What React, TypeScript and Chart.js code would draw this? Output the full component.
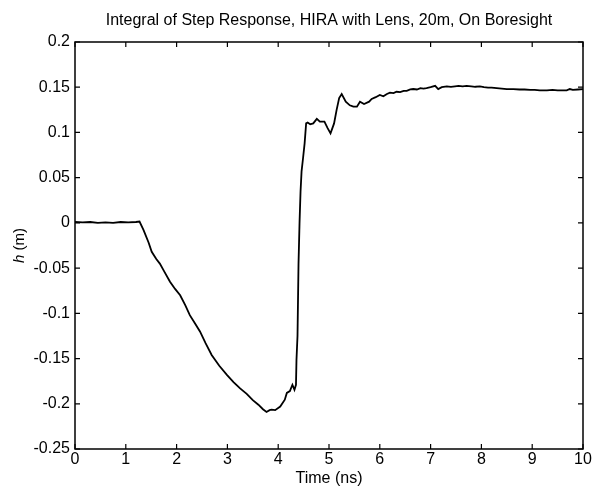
import React, { useEffect, useRef } from "react";
import { Chart, registerables } from "chart.js";

Chart.register(...registerables);

const chartTitle = "Integral of Step Response, HIRA with Lens, 20m, On Boresight";
const xTitle = "Time (ns)";

const timeNs = [
  0, 0.15, 0.3, 0.45, 0.6, 0.75, 0.9, 1.05, 1.2, 1.27,
  1.35, 1.45, 1.51, 1.6, 1.67, 1.75, 1.87, 1.97, 2.07, 2.17,
  2.26, 2.36, 2.46, 2.57, 2.69, 2.84, 2.99, 3.12, 3.25, 3.38,
  3.5, 3.61, 3.7, 3.77, 3.83, 3.87, 3.94, 4.04, 4.13, 4.17,
  4.23, 4.28, 4.32, 4.35, 4.36, 4.38, 4.4, 4.42, 4.44, 4.46,
  4.49, 4.52, 4.55, 4.58, 4.63, 4.69, 4.76, 4.82, 4.91, 4.97,
  5.03, 5.1, 5.15, 5.2, 5.25, 5.33, 5.41, 5.48, 5.55, 5.61,
  5.69, 5.79, 5.84, 5.92, 6.0, 6.07, 6.14, 6.2, 6.27, 6.33,
  6.4, 6.47, 6.53, 6.6, 6.66, 6.73, 6.8, 6.86, 6.92, 7.0,
  7.09, 7.15, 7.22, 7.32, 7.4, 7.48, 7.55, 7.63, 7.71, 7.8,
  7.88, 7.97, 8.05, 8.13, 8.2, 8.3, 8.4, 8.5, 8.63, 8.75,
  8.85, 8.96, 9.05, 9.15, 9.29, 9.4, 9.5, 9.61, 9.68, 9.74,
  9.8, 9.9, 10,
];

const heightM = [
  0.001, 0.0005, 0.001, 0.0, 0.0005, 0.0, 0.001, 0.0005, 0.001, 0.0015,
  -0.008, -0.022, -0.032, -0.04, -0.045, -0.053, -0.065, -0.073, -0.08, -0.091,
  -0.102, -0.111, -0.12, -0.133, -0.146, -0.158, -0.168, -0.176, -0.183, -0.189,
  -0.196, -0.201, -0.206, -0.209, -0.207, -0.2065, -0.207, -0.203, -0.1955, -0.188,
  -0.186, -0.179, -0.1845, -0.179, -0.151, -0.125, -0.045, 0.0, 0.035, 0.057,
  0.072, 0.088, 0.11, 0.111, 0.109, 0.11, 0.115, 0.112, 0.112, 0.105,
  0.099, 0.11, 0.125, 0.138, 0.1425, 0.134, 0.13, 0.1285, 0.1285, 0.134,
  0.1315, 0.134, 0.137, 0.139, 0.1415, 0.14, 0.1425, 0.144, 0.1435, 0.145,
  0.1445, 0.146, 0.146, 0.1475, 0.148, 0.1475, 0.149, 0.1485, 0.149, 0.15,
  0.1515, 0.148, 0.15, 0.151, 0.1505, 0.151, 0.1515, 0.151, 0.1515, 0.151,
  0.1505, 0.151, 0.15, 0.1495, 0.1495, 0.149, 0.1485, 0.148, 0.148, 0.1475,
  0.1475, 0.147, 0.147, 0.1465, 0.1465, 0.147, 0.1465, 0.1465, 0.1465, 0.148,
  0.147, 0.1475, 0.148,
];

const xMin = 0;
const xMax = 10;
const xStep = 1;
const yMin = -0.25;
const yMax = 0.2;
const yStep = 0.05;

const FONT = "'Liberation Sans', Arial, Helvetica, sans-serif";

const boxTicks = {
  id: "boxTicks",
  afterDatasetsDraw(chart: any) {
    const { ctx, chartArea: a, scales } = chart;
    const len = 5;
    ctx.save();
    ctx.strokeStyle = "#000";
    ctx.lineWidth = 1.5;
    ctx.strokeRect(a.left, a.top, a.right - a.left, a.bottom - a.top);
    ctx.lineWidth = 1.2;
    ctx.beginPath();
    scales.x.ticks.forEach((t: any) => {
      const px = scales.x.getPixelForValue(t.value);
      ctx.moveTo(px, a.bottom);
      ctx.lineTo(px, a.bottom - len);
      ctx.moveTo(px, a.top);
      ctx.lineTo(px, a.top + len);
    });
    scales.y.ticks.forEach((t: any) => {
      const py = scales.y.getPixelForValue(t.value);
      ctx.moveTo(a.left, py);
      ctx.lineTo(a.left + len, py);
      ctx.moveTo(a.right, py);
      ctx.lineTo(a.right - len, py);
    });
    ctx.stroke();

    // y-axis title with italic h
    const cy = (a.top + a.bottom) / 2;
    ctx.translate(20, cy);
    ctx.rotate(-Math.PI / 2);
    ctx.fillStyle = "#000";
    ctx.textBaseline = "middle";
    ctx.font = `italic 15px ${FONT}`;
    const w1 = ctx.measureText("h").width;
    ctx.font = `15px ${FONT}`;
    const w2 = ctx.measureText(" (m)").width;
    const start = -(w1 + w2) / 2;
    ctx.textAlign = "left";
    ctx.font = `italic 15px ${FONT}`;
    ctx.fillText("h", start, 0);
    ctx.font = `15px ${FONT}`;
    ctx.fillText(" (m)", start + w1, 0);
    ctx.restore();
  },
};

export default function App() {
  const ref = useRef<HTMLCanvasElement | null>(null);

  useEffect(() => {
    document.body.style.margin = "0";
    const canvas = ref.current;
    if (!canvas) return;
    const points = timeNs.map((t, i) => ({ x: t, y: heightM[i] }));
    const chart = new Chart(canvas, {
      type: "line",
      data: {
        datasets: [
          {
            data: points,
            borderColor: "#000",
            borderWidth: 1.8,
            pointRadius: 0,
            tension: 0,
            fill: false,
          },
        ],
      },
      options: {
        animation: false,
        responsive: false,
        maintainAspectRatio: false,
        layout: { padding: { left: 0, right: 14, top: 0, bottom: 0 } },
        plugins: {
          legend: { display: false },
          tooltip: { enabled: false },
          title: {
            display: true,
            text: chartTitle,
            fullSize: false,
            color: "#000",
            font: { family: FONT, size: 16, weight: "normal" },
            padding: { top: 11, bottom: 11.8 },
          },
        },
        scales: {
          x: {
            type: "linear",
            min: xMin,
            max: xMax,
            grid: { display: false, drawTicks: false },
            border: { display: false },
            ticks: {
              stepSize: xStep,
              color: "#000",
              padding: 1,
              maxRotation: 0,
              font: { family: FONT, size: 16 },
            },
            title: {
              display: true,
              text: xTitle,
              color: "#000",
              font: { family: FONT, size: 16 },
              padding: { top: 0, bottom: 0.5 },
            },
            afterFit(scale: any) {
              scale.height = 40;
            },
          },
          y: {
            type: "linear",
            min: yMin,
            max: yMax,
            grid: { display: false, drawTicks: false },
            border: { display: false },
            ticks: {
              stepSize: yStep,
              color: "#000",
              padding: 5,
              font: { family: FONT, size: 16 },
              callback: (v: any) => String(Number(Number(v).toFixed(2))),
            },
            afterFit(scale: any) {
              scale.width = 75;
            },
          },
        },
      },
      plugins: [boxTicks],
    });
    return () => chart.destroy();
  }, []);

  return (
    <div style={{ width: 597, height: 489, background: "#fff" }}>
      <canvas ref={ref} width={597} height={489} style={{ display: "block" }} />
    </div>
  );
}
